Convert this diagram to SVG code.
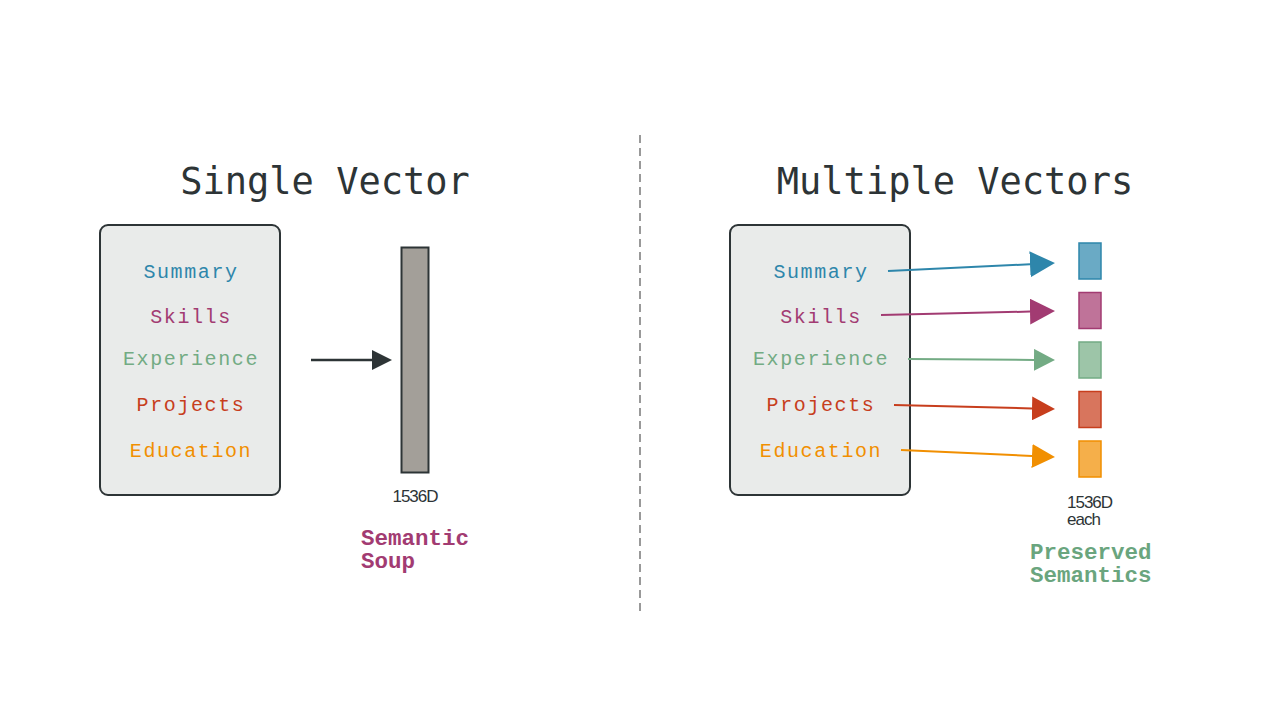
<svg xmlns="http://www.w3.org/2000/svg" width="1280" height="720" viewBox="0 0 1280 720">
<style>
.title{font-family:"DejaVu Sans Mono","Liberation Mono",monospace;font-size:37px;fill:#2d3436;text-anchor:middle}
.item{font-family:"Liberation Mono",monospace;font-size:20px;letter-spacing:1.6px;text-anchor:middle}
.box{fill:#e9ebea;stroke:#2d3436;stroke-width:2}
.dim{font-family:"Liberation Sans",Arial,sans-serif;font-size:17px;letter-spacing:-1px;fill:#2d3436}
.note{font-family:"Liberation Mono",monospace;font-size:22.5px;font-weight:bold}
.blue{fill:#2e86ab}.pink{fill:#a23b72}.green{fill:#73ab84}.red{fill:#c73e1d}.orange{fill:#f18f01}
</style>
<defs>
<marker id="mk" markerUnits="userSpaceOnUse" markerWidth="20" markerHeight="20" refX="0" refY="10" orient="auto"><path d="M0,0 L20,10 L0,20 Z" fill="#2d3436"/></marker>
<marker id="mb" markerUnits="userSpaceOnUse" markerWidth="25" markerHeight="26" refX="0" refY="13" orient="auto"><path d="M0,0 L25,13 L0,26 Z" fill="#2e86ab"/></marker>
<marker id="mp" markerUnits="userSpaceOnUse" markerWidth="25" markerHeight="26" refX="0" refY="13" orient="auto"><path d="M0,0 L25,13 L0,26 Z" fill="#a23b72"/></marker>
<marker id="mg" markerUnits="userSpaceOnUse" markerWidth="21" markerHeight="22" refX="0" refY="11" orient="auto"><path d="M0,0 L21,11 L0,22 Z" fill="#73ab84"/></marker>
<marker id="mr" markerUnits="userSpaceOnUse" markerWidth="23" markerHeight="24" refX="0" refY="12" orient="auto"><path d="M0,0 L23,12 L0,24 Z" fill="#c73e1d"/></marker>
<marker id="mo" markerUnits="userSpaceOnUse" markerWidth="23" markerHeight="24" refX="0" refY="12" orient="auto"><path d="M0,0 L23,12 L0,24 Z" fill="#f18f01"/></marker>
</defs>
<rect width="1280" height="720" fill="#ffffff"/>

<g id="left-title"><text class="title" x="325" y="194">Single Vector</text></g>
<g id="left-box">
<rect class="box" x="100" y="225" width="180" height="270" rx="8"/>
<text class="item blue" x="191" y="278">Summary</text>
<text class="item pink" x="191" y="323">Skills</text>
<text class="item green" x="191" y="365">Experience</text>
<text class="item red" x="191" y="411">Projects</text>
<text class="item orange" x="191" y="457">Education</text>
</g>
<g id="single-vector">
<rect x="401.5" y="247.5" width="27" height="225" fill="#a39f99" stroke="#2d3436" stroke-width="2"/>
<text class="dim" x="415" y="502" text-anchor="middle">1536D</text>
<text class="note pink" x="361" y="545">Semantic</text>
<text class="note pink" x="361" y="568">Soup</text>
</g>

<g id="divider"><line x1="640" y1="135" x2="640" y2="612" stroke="#999" stroke-width="2" stroke-dasharray="8,5"/></g>

<g id="right-title"><text class="title" x="955" y="194">Multiple Vectors</text></g>
<g id="right-box">
<rect class="box" x="730" y="225" width="180" height="270" rx="8"/>
<text class="item blue" x="821" y="278">Summary</text>
<text class="item pink" x="821" y="323">Skills</text>
<text class="item green" x="821" y="365">Experience</text>
<text class="item red" x="821" y="411">Projects</text>
<text class="item orange" x="821" y="457">Education</text>
</g>
<g id="multi-vectors">
<rect x="1079" y="243" width="22" height="36" fill="#6aaac5" stroke="#2e86ab" stroke-width="1.5"/>
<rect x="1079" y="292.5" width="22" height="36" fill="#bf7399" stroke="#a23b72" stroke-width="1.5"/>
<rect x="1079" y="342" width="22" height="36" fill="#9dc5a8" stroke="#73ab84" stroke-width="1.5"/>
<rect x="1079" y="391.5" width="22" height="36" fill="#d8755d" stroke="#c73e1d" stroke-width="1.5"/>
<rect x="1079" y="441" width="22" height="36" fill="#f5af4a" stroke="#f18f01" stroke-width="1.5"/>
<text class="dim" x="1067" y="508">1536D</text>
<text class="dim" x="1067" y="525">each</text>
<text class="note" x="1030" y="559" fill="#6aa57e">Preserved</text>
<text class="note" x="1030" y="582" fill="#6aa57e">Semantics</text>
</g>

<g id="connectors">
<line x1="311" y1="360" x2="372" y2="360" stroke="#2d3436" stroke-width="2.5" marker-end="url(#mk)"/>
<line x1="888" y1="271" x2="1030" y2="264.3" stroke="#2e86ab" stroke-width="2" marker-end="url(#mb)"/>
<line x1="881" y1="315" x2="1030" y2="311.6" stroke="#a23b72" stroke-width="2" marker-end="url(#mp)"/>
<line x1="908" y1="359" x2="1034" y2="359.9" stroke="#73ab84" stroke-width="2" marker-end="url(#mg)"/>
<line x1="894" y1="405" x2="1032" y2="408.4" stroke="#c73e1d" stroke-width="2" marker-end="url(#mr)"/>
<line x1="901" y1="450" x2="1032" y2="456" stroke="#f18f01" stroke-width="2" marker-end="url(#mo)"/>
</g>
</svg>
